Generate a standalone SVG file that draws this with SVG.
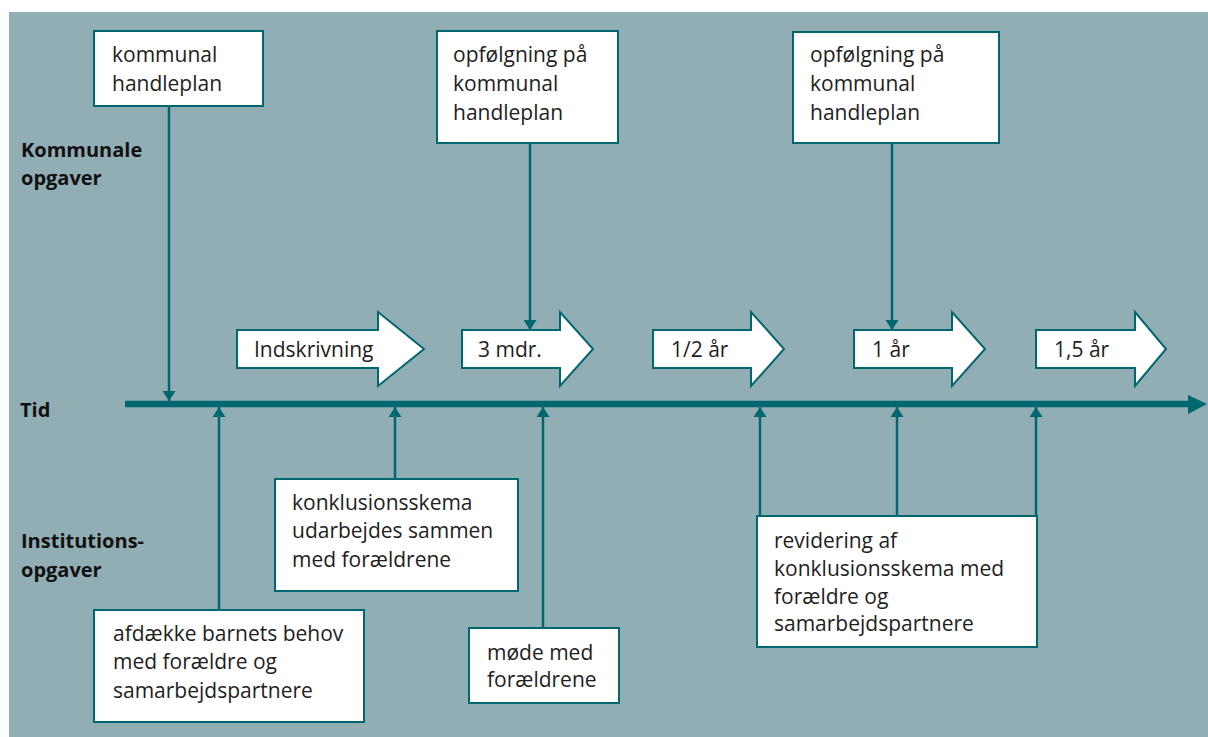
<svg xmlns="http://www.w3.org/2000/svg" width="1208" height="737" viewBox="0 0 1208 737">
<defs>
<style>
.bg{fill:#91aeb5}
.box{fill:#ffffff;stroke:#00666f;stroke-width:2}
.t{font-family:"Open Sans","Noto Sans","Liberation Sans",sans-serif;font-size:21px;fill:#1e1e1e}
.lbl{font-family:"Open Sans","Noto Sans","Liberation Sans",sans-serif;font-size:20px;font-weight:bold;fill:#111111}
.con{fill:none;stroke:#00666f;stroke-width:2.5}
.axis{fill:none;stroke:#00666f;stroke-width:6.5}
</style>
<marker id="ah" viewBox="0 0 10 13" refX="10" refY="6.5" markerWidth="10" markerHeight="13" markerUnits="userSpaceOnUse" orient="auto">
<path d="M0,0 L10,6.5 L0,13 z" fill="#00666f"/>
</marker>
</defs>
<rect class="bg" x="9" y="12" width="1199" height="725"/>

<g id="labels">
<text class="lbl" x="21" y="157">Kommunale</text>
<text class="lbl" x="21" y="185">opgaver</text>
<text class="lbl" x="20" y="417">Tid</text>
<text class="lbl" x="21" y="548">Institutions-</text>
<text class="lbl" x="21" y="577">opgaver</text>
</g>

<g id="timeline">
<line class="axis" x1="125" y1="404" x2="1190" y2="404"/>
<polygon points="1188,395 1207,404 1188,414" fill="#00666f"/>
</g>

<g id="connectors">
<path class="con" d="M169,106 V401" marker-end="url(#ah)"/>
<path class="con" d="M530,143 V330" marker-end="url(#ah)"/>
<path class="con" d="M892,143 V330" marker-end="url(#ah)"/>
<path class="con" d="M219,610 V407" marker-end="url(#ah)"/>
<path class="con" d="M395,479 V407" marker-end="url(#ah)"/>
<path class="con" d="M543,628 V407" marker-end="url(#ah)"/>
<path class="con" d="M760,516 V407" marker-end="url(#ah)"/>
<path class="con" d="M897,516 V407" marker-end="url(#ah)"/>
<path class="con" d="M1036,516 V407" marker-end="url(#ah)"/>
</g>

<g id="box-kommunal-handleplan">
<rect class="box" x="94" y="31" width="169" height="75"/>
<text class="t" x="112" y="62">kommunal</text>
<text class="t" x="112" y="91">handleplan</text>
</g>

<g id="box-opfoelgning-1">
<rect class="box" x="437" y="31" width="181" height="112"/>
<text class="t" x="453" y="62">opfølgning på</text>
<text class="t" x="453" y="91">kommunal</text>
<text class="t" x="453" y="120">handleplan</text>
</g>

<g id="box-opfoelgning-2">
<rect class="box" x="793" y="32" width="206" height="111"/>
<text class="t" x="810" y="62">opfølgning på</text>
<text class="t" x="810" y="91">kommunal</text>
<text class="t" x="810" y="120">handleplan</text>
</g>

<g id="arrow-indskrivning">
<polygon class="box" points="237,330 378,330 378,312 424,349 378,386 378,368 237,368"/>
<text class="t" x="254" y="357">Indskrivning</text>
</g>

<g id="arrow-3mdr">
<polygon class="box" points="462,330 560,330 560,312 593,349 560,386 560,368 462,368"/>
<text class="t" x="478" y="357">3 mdr.</text>
</g>

<g id="arrow-halvaar">
<polygon class="box" points="653,330 751,330 751,312 784,349 751,386 751,368 653,368"/>
<text class="t" x="671" y="357">1/2 år</text>
</g>

<g id="arrow-1aar">
<polygon class="box" points="854,330 952,330 952,312 985,349 952,386 952,368 854,368"/>
<text class="t" x="872" y="357">1 år</text>
</g>

<g id="arrow-15aar">
<polygon class="box" points="1036,330 1135,330 1135,312 1166,349 1135,386 1135,368 1036,368"/>
<text class="t" x="1054" y="357">1,5 år</text>
</g>

<g id="box-afdaekke">
<rect class="box" x="94" y="610" width="270" height="112"/>
<text class="t" x="113" y="641">afdække barnets behov</text>
<text class="t" x="113" y="669">med forældre og</text>
<text class="t" x="113" y="698">samarbejdspartnere</text>
</g>

<g id="box-konklusionsskema">
<rect class="box" x="275" y="479" width="243" height="112"/>
<text class="t" x="292" y="510">konklusionsskema</text>
<text class="t" x="292" y="538">udarbejdes sammen</text>
<text class="t" x="292" y="567">med forældrene</text>
</g>

<g id="box-moede">
<rect class="box" x="469" y="628" width="150" height="75"/>
<text class="t" x="487" y="660">møde med</text>
<text class="t" x="487" y="687">forældrene</text>
</g>

<g id="box-revidering">
<rect class="box" x="757" y="516" width="280" height="131"/>
<text class="t" x="774" y="548">revidering af</text>
<text class="t" x="774" y="576">konklusionsskema med</text>
<text class="t" x="774" y="604">forældre og</text>
<text class="t" x="774" y="631">samarbejdspartnere</text>
</g>
</svg>
